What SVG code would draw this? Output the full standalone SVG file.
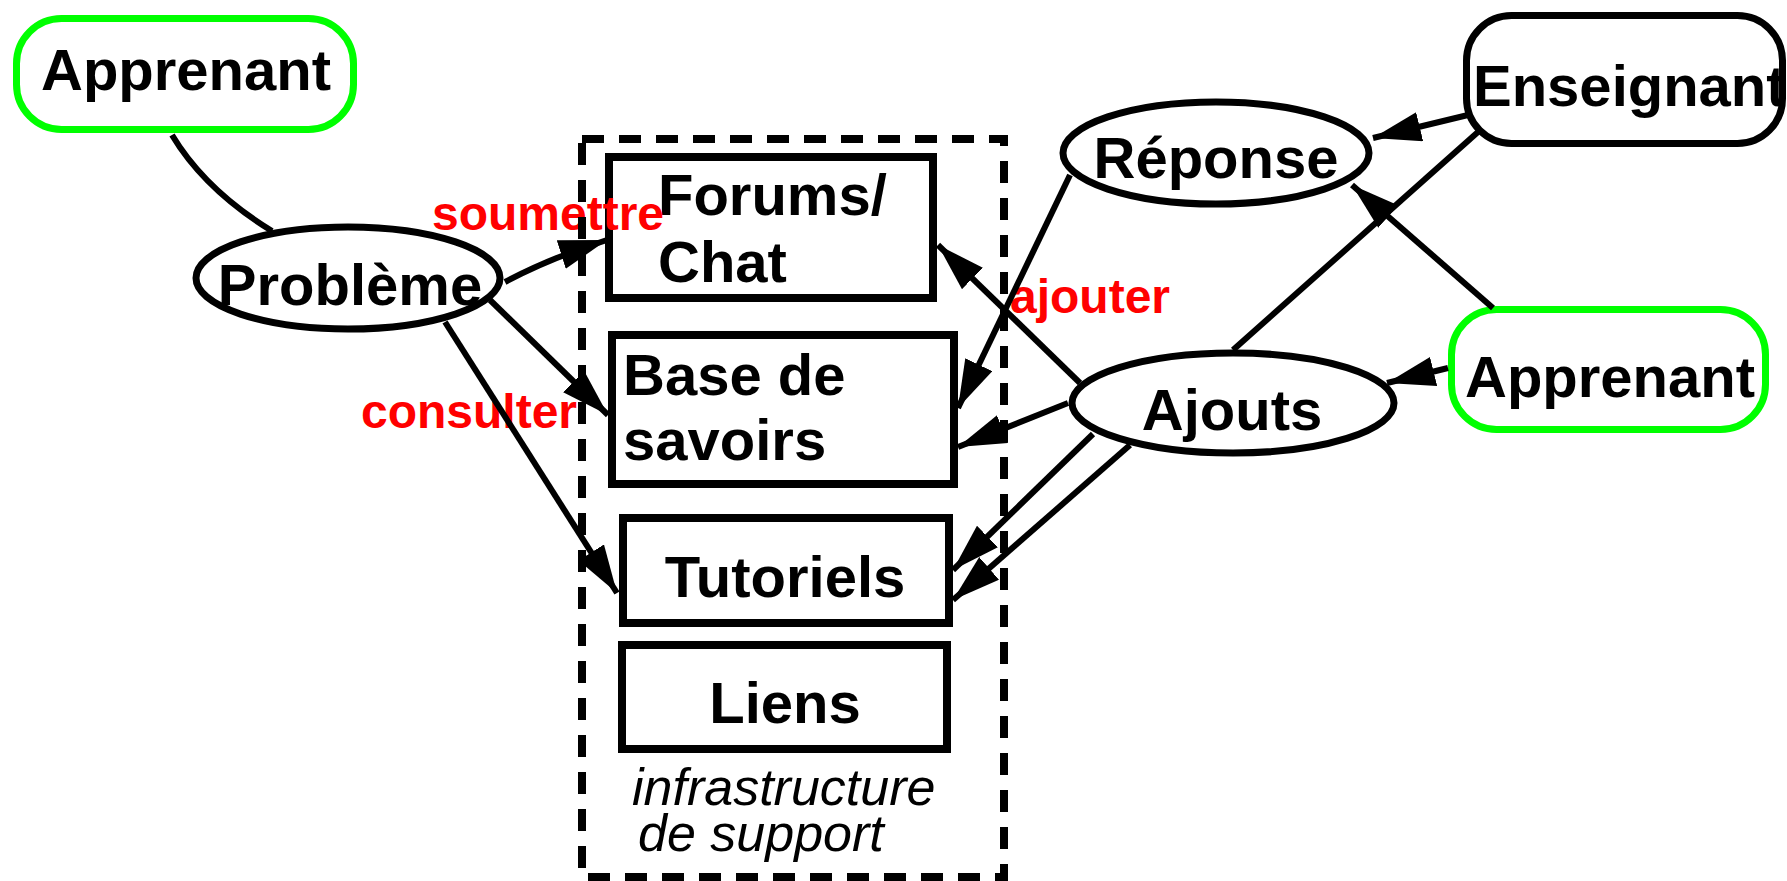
<svg xmlns="http://www.w3.org/2000/svg" width="1787" height="881" viewBox="0 0 1787 881">
<style>
.bg{fill:#fff}
.lbl{font-family:"Liberation Sans",Arial,sans-serif;font-weight:bold;font-size:58px;fill:#000}
.red{font-family:"Liberation Sans",Arial,sans-serif;font-weight:bold;font-size:48px;fill:#ff0000}
.ital{font-family:"Liberation Sans",Arial,sans-serif;font-style:italic;font-size:52px;fill:#000}
.box{fill:#fff;stroke:#000;stroke-width:8}
.ell{fill:#fff;stroke:#000;stroke-width:7}
.actG{fill:#fff;stroke:#00ff00;stroke-width:7}
.actB{fill:#fff;stroke:#000;stroke-width:7}
.con{fill:none;stroke:#000;stroke-width:6}
.arr{fill:none;stroke:#000;stroke-width:6;marker-end:url(#ah)}
.dash{fill:none;stroke:#000;stroke-width:8;stroke-dasharray:22 15}
</style>
<defs>
<marker id="ah" markerUnits="userSpaceOnUse" markerWidth="50" markerHeight="32" refX="48" refY="15" orient="auto">
<path d="M0,0 L48,15 L0,30 z" fill="#000"/>
</marker>
</defs>
<rect class="bg" x="0" y="0" width="1787" height="881"/>
<g id="apprenant-left">
<rect class="actG" x="16.5" y="18.5" width="337" height="111" rx="45"/>
<text class="lbl" x="186" y="90" text-anchor="middle">Apprenant</text>
</g>
<g id="probleme">
<ellipse class="ell" cx="348" cy="278" rx="152" ry="51"/>
<text class="lbl" x="350" y="305" text-anchor="middle">Problème</text>
</g>
<g id="forums">
<rect class="box" x="609" y="157" width="324" height="141"/>
<text class="lbl" x="658" y="215">Forums/</text>
<text class="lbl" x="658" y="282">Chat</text>
</g>
<g id="base">
<rect class="box" x="612" y="335" width="342" height="149"/>
<text class="lbl" x="623" y="395">Base de</text>
<text class="lbl" x="623" y="460">savoirs</text>
</g>
<g id="tutoriels">
<rect class="box" x="623" y="518" width="326" height="105"/>
<text class="lbl" x="785" y="597" text-anchor="middle">Tutoriels</text>
</g>
<g id="liens">
<rect class="box" x="622" y="645" width="325" height="104"/>
<text class="lbl" x="785" y="723" text-anchor="middle">Liens</text>
</g>
<g id="reponse">
<ellipse class="ell" cx="1216" cy="153" rx="153" ry="51"/>
<text class="lbl" x="1216" y="178" text-anchor="middle">Réponse</text>
</g>
<g id="ajouts">
<ellipse class="ell" cx="1233" cy="403" rx="161" ry="50"/>
<text class="lbl" x="1232" y="430" text-anchor="middle">Ajouts</text>
</g>
<g id="enseignant">
<rect class="actB" x="1466.5" y="15.5" width="316" height="128" rx="45"/>
<text class="lbl" x="1473" y="106">Enseignant</text>
</g>
<g id="apprenant-right">
<rect class="actG" x="1451.5" y="309.5" width="314" height="120" rx="45"/>
<text class="lbl" x="1465" y="397">Apprenant</text>
</g>
<g id="labels">
<text class="red" x="432" y="230">soumettre</text>
<text class="red" x="577" y="428" text-anchor="end">consulter</text>
<text class="red" x="1010" y="313">ajouter</text>
</g>
<g id="infrastructure">
<rect class="dash" x="582" y="139" width="422" height="738"/>
<text class="ital" x="632" y="805">infrastructure</text>
<text class="ital" x="638" y="851">de support</text>
</g>
<g id="connectors">
<path class="con" d="M172,135 Q205,190 272,231"/>
<path class="arr" d="M505,282 Q550,258 607,240"/>
<path class="arr" d="M490,300 L608,415"/>
<path class="arr" d="M445,322 L617,593"/>
<path class="arr" d="M1070,175 L958,408"/>
<path class="arr" d="M1080,383 L938,245"/>
<path class="arr" d="M1068,403 L958,447"/>
<path class="arr" d="M1093,434 L953,570"/>
<path class="arr" d="M1130,445 L953,600"/>
<path class="con" d="M1233,350 L1478,132"/>
<path class="arr" d="M1493,308 L1352,185"/>
<path class="arr" d="M1468,115 L1373,138"/>
<path class="arr" d="M1448,368 L1387,383"/>
</g>
</svg>
